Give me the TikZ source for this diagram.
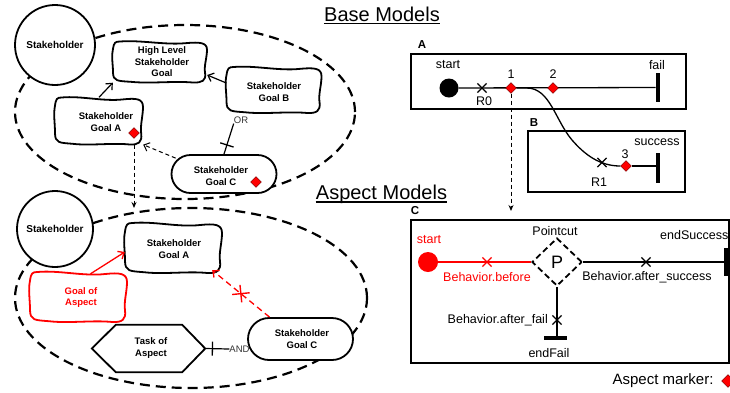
\documentclass[tikz,border=0pt]{standalone}
\usepackage{fontspec}
\setmainfont{Liberation Sans}
\usetikzlibrary{arrows.meta,shapes.geometric,shapes.misc,decorations.markings,calc}

\newcommand\wavyoutline[5]{%
\begin{scope}[shift={(#1,#2)},xscale=#3,yscale=#4]
\draw[#5] (-0.85,-1) .. controls (-0.4,-1.08) and (0.1,-0.82) .. (0.55,-0.92)
 .. controls (0.85,-0.98) and (1,-0.95) .. (1,-0.6)
 .. controls (1,-0.2) and (0.93,0.2) .. (0.96,0.55)
 .. controls (0.98,0.9) and (0.9,1.02) .. (0.7,1)
 .. controls (0.3,0.92) and (-0.2,1.06) .. (-0.6,0.97)
 .. controls (-0.9,0.92) and (-1,0.95) .. (-1,0.5)
 .. controls (-1,0.1) and (-1.04,-0.3) .. (-1,-0.65)
 .. controls (-0.98,-0.95) and (-0.95,-1) .. (-0.85,-1) -- cycle;
\end{scope}}

\begin{document}
\begin{tikzpicture}[x=1pt,y=-1pt,
  every node/.style={inner sep=0pt},
  goaltxt/.style={font=\fontsize{9.5}{11.5}\selectfont\bfseries, align=center},
  lbl/.style={font=\fontsize{12.5}{14}\selectfont},
  boxlbl/.style={font=\fontsize{11.5}{13}\selectfont\bfseries},
  title/.style={font=\fontsize{20}{22}\selectfont},
  smalllbl/.style={font=\fontsize{9.5}{11}\selectfont, text=black!80},
  ell/.style={line width=2.2pt, dash pattern=on 10pt off 6pt},
  stk/.style={circle, draw, line width=1.8pt, fill=white, minimum size=80pt, font=\fontsize{10}{12}\selectfont\bfseries},
  goalline/.style={line width=1.8pt, draw=black, fill=white},
  redline/.style={line width=1.8pt, draw=red, fill=white},
  gshape/.style={rectangle},
  stadium/.style={draw, line width=1.8pt, fill=white, rounded corners=19pt, minimum width=105pt, minimum height=38pt},
  amark/.style={diamond, fill=red, draw=black!60!red, line width=0.4pt, minimum width=11pt, minimum height=11pt},
  link/.style={line width=1.2pt},
  arr/.style={line width=1.2pt, -{Straight Barb[length=5pt,width=9pt]}},
  thindash/.style={line width=1pt, dash pattern=on 4pt off 3pt, -{Stealth[length=6pt,width=5pt]}},
  xmark/.style={cross out, draw, line width=1.2pt, minimum size=8pt, solid},
  flow/.style={line width=1.3pt},
  boxline/.style={line width=1.6pt},
  vbar/.style={fill=black, minimum width=4.5pt, minimum height=29pt},
  hbar/.style={fill=black, minimum width=23pt, minimum height=4.5pt},
  orbar/.style={postaction={decorate}, decoration={markings, mark=at position #1 with {\draw[line width=1.3pt] (0,-7pt) -- (0,7pt);}}}
]
\useasboundingbox (0,0) rectangle (730,392);

% ---------- titles
\node[title, anchor=base] (tbase) at (382,21) {Base Models};
\draw[line width=1.3pt] ([yshift=-2.5pt]tbase.base west) -- ([yshift=-2.5pt]tbase.base east);
\node[title, anchor=base] (tasp) at (381.5,199) {Aspect Models};
\draw[line width=1.3pt] ([yshift=-3pt]tasp.base west) -- ([yshift=-3pt]tasp.base east);

% ---------- top goal model
\draw[ell] (185,112) ellipse [x radius=170pt, y radius=87pt];
\node[stk] (s1) at (55,45) {Stakeholder};

\wavyoutline{160}{62}{47}{20.5}{goalline}
\node[gshape, minimum width=94pt, minimum height=41pt] (hl) at (160,62) {};
\node[goaltxt] (hlt) at (162,62) {High Level\\Stakeholder\\Goal};

\wavyoutline{274}{90}{47.5}{23}{goalline}
\node[gshape, minimum width=95pt, minimum height=46pt] (gB) at (274,90) {};
\node[goaltxt] (gBt) at (274,92) {Stakeholder\\Goal B};

\wavyoutline{99}{121}{44}{23.5}{goalline}
\node[gshape, minimum width=88pt, minimum height=47pt] (gA) at (99,121) {};
\node[goaltxt] (gAt) at (106,122) {Stakeholder\\Goal A};
\node[amark] (dA) at (134,133) {};

\node[stadium] (gC) at (224,174) {};
\node[goaltxt] (gCt) at (221,176) {Stakeholder\\Goal C};
\node[amark] (dC) at (256,182) {};

\draw[arr] (gA.north) -- (hl.south west);
\draw[arr] ([yshift=7pt]gB.west) -- ([yshift=-13pt]hl.east);
\draw[line width=1pt, dash pattern=on 4pt off 3pt, -{Straight Barb[length=5pt,width=9pt]}] ([xshift=5pt,yshift=-4pt]gC.north west) -- (gA.south east);
\node[smalllbl] (orl) at (241,120) {OR};
\draw[link, orbar=0.3] (gC.north) -- (orl.south west);

\coordinate (arrA) at (134,208);
\draw[thindash] (gA.south -| dA) -- (arrA);

% ---------- lower (aspect) goal model
\draw[ell] (191,298) ellipse [x radius=176pt, y radius=90pt];
\node[stk, minimum size=76pt] (s2) at (55,229) {Stakeholder};

\wavyoutline{173.5}{248}{48.5}{25}{goalline}
\node[gshape, minimum width=97pt, minimum height=50pt] (lgA) at (173.5,248) {};
\node[goaltxt] (lgAt) at (174,249) {Stakeholder\\Goal A};

\wavyoutline{78.5}{297}{48.5}{25}{redline}
\node[gshape, minimum width=97pt, minimum height=50pt] (ga) at (78.5,297) {};
\node[goaltxt, text=red] (gat) at (81,297.5) {Goal of\\Aspect};

\node[gshape, minimum width=113pt, minimum height=47pt] (tk) at (148.5,348.5) {};
\draw[goalline] (tk.west) -- ([xshift=24pt]tk.north west) -- ([xshift=-23pt]tk.north east) -- (tk.east)
  -- ([xshift=-23pt]tk.south east) -- ([xshift=24pt]tk.south west) -- cycle;
\node[goaltxt] (tkt) at (151,348) {Task of\\Aspect};

\node[stadium, rounded corners=21pt, minimum height=42pt] (lgC) at (300.5,339) {};
\node[goaltxt] (lgCt) at (302,339) {Stakeholder\\Goal C};

\draw[arr, draw=red, line width=1.3pt] ([xshift=12pt,yshift=-2pt]ga.north) -- ([yshift=-4pt]lgA.west);
\draw[line width=1.3pt, draw=red, dash pattern=on 6pt off 4pt, -{Straight Barb[length=5pt,width=9pt]}]
  ([xshift=-31pt]lgC.north) -- node[pos=0.5, sloped, cross out, draw=red, solid, line width=1.4pt, minimum size=11pt] {} ([xshift=-10pt,yshift=3pt]lgA.south east);
\node[smalllbl] (andl) at (239.5,349) {AND};
\draw[link, orbar=0.3] (tk.east) -- (andl.west);

% ---------- box A
\node[boxlbl] (la) at (422,45) {A};
\draw[boxline] (411,54) rectangle (686,109);
\node[circle, fill=black, minimum size=19pt] (stA) at (449,88) {};
\node[lbl] at (448,65) {start};
\node[vbar] (fail) at (658,87.5) {};
\node[lbl] at (657,65) {fail};
\draw[flow] (stA) -- (fail);
\node[xmark] (x0) at (482,88) {};
\node[lbl] at (484,101) {R0};
\node[amark] (d1) at (511,88) {};
\node[lbl] at (511,74) {1};
\node[amark] (d2) at (553,88) {};
\node[lbl] at (553,74) {2};

% ---------- box B
\node[boxlbl] (lb) at (534,123) {B};
\draw[boxline] (528,131) rectangle (685,192);
\node[lbl] at (657,142) {success};
\node[vbar, minimum height=30pt] (succ) at (658,168) {};
\node[amark] (d3) at (626,166) {};
\node[lbl] at (625,154) {3};
\draw[flow] (d1.east) -- ++(10,0) .. controls (550,88) and (555,120) .. (572,140)
  .. controls (585,155) and (600,166) .. (d3.west);
\draw[flow] (d3.east) -- (succ.west |- d3.east);
\node[xmark] (x1) at (602,162.5) {};
\node[lbl] at (599,182) {R1};

\coordinate (arrC) at (511,211);
\draw[thindash] (d1) -- (arrC);

% ---------- box C
\node[boxlbl] (lc) at (415,211) {C};
\draw[boxline] (411,220) rectangle (729,363);
\node[circle, fill=red, minimum size=20pt] (stC) at (428,262) {};
\node[lbl, text=red] at (429,240) {start};
\node[diamond, draw, line width=1.8pt, dash pattern=on 6pt off 3.5pt, minimum width=50pt, minimum height=48pt,
  font=\fontsize{18}{20}\selectfont] (P) at (557,262) {P};
\node[lbl] at (555,231) {Pointcut};
\draw[flow, red] (stC) -- (P.west);
\node[xmark, draw=red] at (487,262) {};
\node[lbl, text=red] at (487,277) {Behavior.before};
\node[vbar, minimum height=28pt] (endS) at (726,262) {};
\node[lbl, anchor=west] at (660,235) {endSuccess};
\draw[flow] (P.east) -- (endS.west);
\node[xmark] at (646,262) {};
\node[lbl] at (647,277) {Behavior.after\_success};
\node[hbar] (endF) at (555,338) {};
\draw[flow] (P.south) -- (P.south |- endF.north);
\node[xmark] at (557,320) {};
\node[lbl, anchor=east] at (548,320) {Behavior.after\_fail};
\node[lbl] at (549,353) {endFail};

% ---------- legend
\node[font=\fontsize{15}{17}\selectfont] (leg) at (663,381) {Aspect marker:};
\node[amark, minimum width=13pt, minimum height=13pt] (dleg) at (728,381) {};
\end{tikzpicture}
\end{document}
